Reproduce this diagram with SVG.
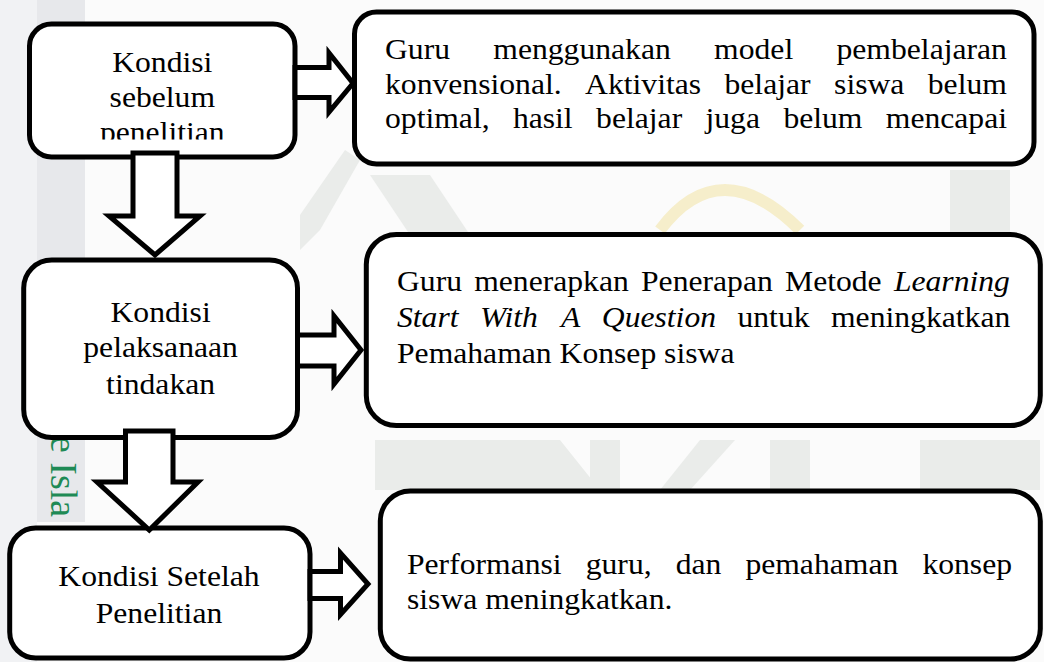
<svg xmlns="http://www.w3.org/2000/svg" width="1044" height="662" viewBox="0 0 1044 662">
<style>
.box{fill:#ffffff;stroke:#000000;stroke-width:5}
.arr{fill:#ffffff;stroke:#000000;stroke-width:5;stroke-linejoin:miter;stroke-miterlimit:10}
.t{font-family:"Liberation Serif","Times New Roman",serif;font-size:30px;fill:#000000}
.c{text-anchor:middle}
.i{font-style:italic}
.wm{fill:#eaecea}
</style>
<defs>
<clipPath id="clip1"><rect x="30" y="26" width="265" height="113.5"/></clipPath>
</defs>
<g id="background">
<rect x="0" y="0" width="1044" height="662" fill="#fbfbfb"/>
<rect x="0" y="0" width="37" height="662" fill="#f1f2f4"/>
<rect x="37" y="0" width="48" height="522" fill="#e7e8eb"/>
<polygon class="wm" points="300,250 320,230 360,160 345,150 300,215"/>
<polygon class="wm" points="370,175 430,175 470,235 410,235"/>
<polygon class="wm" points="950,170 1010,170 1010,235 950,235"/>
<polygon class="wm" points="375,440 560,440 600,490 375,490"/>
<polygon class="wm" points="590,440 620,440 620,490 590,490"/>
<polygon class="wm" points="700,440 735,440 690,490 660,490"/>
<polygon class="wm" points="770,440 810,440 810,490 770,490"/>
<polygon class="wm" points="920,440 1040,440 1040,490 920,490"/>
<path d="M 660 230 Q 720 150 800 230" fill="none" stroke="#f6eecb" stroke-width="12"/>
<text x="0" y="0" transform="translate(51,436) rotate(90)" font-family="Liberation Serif, serif" font-size="38" fill="#1f8a55">e Isla</text>
</g>
<g id="node-sebelum">
<rect class="box" x="29.5" y="24" width="265.5" height="133" rx="22"/>
<g clip-path="url(#clip1)">
<g transform="scale(1.055,1)">
<text class="t c" x="153.84" y="71.7">Kondisi</text>
<text class="t c" x="153.84" y="107.3">sebelum</text>
<text class="t c" x="153.84" y="142.5">penelitian</text>
</g>
</g>
</g>
<g id="node-sebelum-desc">
<rect class="box" x="354.5" y="12" width="679.5" height="152" rx="22"/>
<g transform="scale(1.055,1)">
<text class="t" y="59"><tspan x="364.93">Guru</tspan><tspan x="467.58">menggunakan</tspan><tspan x="676.87">model</tspan><tspan x="792.89">pembelajaran</tspan></text>
<text class="t" y="94"><tspan x="364.93">konvensional.</tspan><tspan x="554.60">Aktivitas</tspan><tspan x="686.73">belajar</tspan><tspan x="790.62">siswa</tspan><tspan x="879.43">belum</tspan></text>
<text class="t" y="128"><tspan x="364.93">optimal,</tspan><tspan x="486.16">hasil</tspan><tspan x="565.02">belajar</tspan><tspan x="668.72">juga</tspan><tspan x="742.56">belum</tspan><tspan x="839.62">mencapai</tspan></text>
</g>
</g>
<g id="node-pelaksanaan">
<rect class="box" x="23.7" y="260" width="273.8" height="177.5" rx="28"/>
<g transform="scale(1.055,1)">
<text class="t c" x="152.23" y="321.7">Kondisi</text>
<text class="t c" x="152.23" y="357.3">pelaksanaan</text>
<text class="t c" x="152.23" y="394.5">tindakan</text>
</g>
</g>
<g id="node-pelaksanaan-desc">
<rect class="box" x="366.3" y="234.5" width="674" height="191" rx="30"/>
<g transform="scale(1.055,1)">
<text class="t" y="291"><tspan x="376.30">Guru</tspan><tspan x="449.48">menerapkan</tspan><tspan x="607.58">Penerapan</tspan><tspan x="744.08">Metode</tspan><tspan class="i" x="847.30">Learning</tspan></text>
<text class="t" y="327"><tspan class="i" x="376.30">Start</tspan><tspan class="i" x="454.88">With</tspan><tspan class="i" x="531.85">A</tspan><tspan class="i" x="570.43">Question</tspan><tspan x="699.05">untuk</tspan><tspan x="787.68">meningkatkan</tspan></text>
<text class="t" y="363" x="376.30">Pemahaman Konsep siswa</text>
</g>
</g>
<g id="node-setelah">
<rect class="box" x="9.7" y="528" width="300.3" height="130" rx="26"/>
<g transform="scale(1.055,1)">
<text class="t c" x="150.71" y="585.7">Kondisi Setelah</text>
<text class="t c" x="150.71" y="623.3">Penelitian</text>
</g>
</g>
<g id="node-setelah-desc">
<rect class="box" x="380.3" y="491" width="660" height="168" rx="30"/>
<g transform="scale(1.055,1)">
<text class="t" y="574"><tspan x="385.78">Performansi</tspan><tspan x="555.17">guru,</tspan><tspan x="640.47">dan</tspan><tspan x="706.54">pemahaman</tspan><tspan x="874.31">konsep</tspan></text>
<text class="t" y="609" x="385.78">siswa meningkatkan.</text>
</g>
</g>
<g id="connectors">
<polygon class="arr" points="295,67.5 329,67.5 329,53 353,83.3 329,112 329,97.5 295,97.5"/>
<polygon class="arr" points="133,153 177,153 177,216 200,216 155,255 109,216 133,216"/>
<polygon class="arr" points="297.5,335 334,335 334,316 361,350 334,384 334,366 297.5,366"/>
<polygon class="arr" points="125.5,431 173,431 173,482 198,482 149.3,530 97,482 125.5,482"/>
<polygon class="arr" points="310,571.5 340.5,571.5 340.5,553 368,584 340.5,614.5 340.5,598.5 310,598.5"/>
</g>
</svg>
